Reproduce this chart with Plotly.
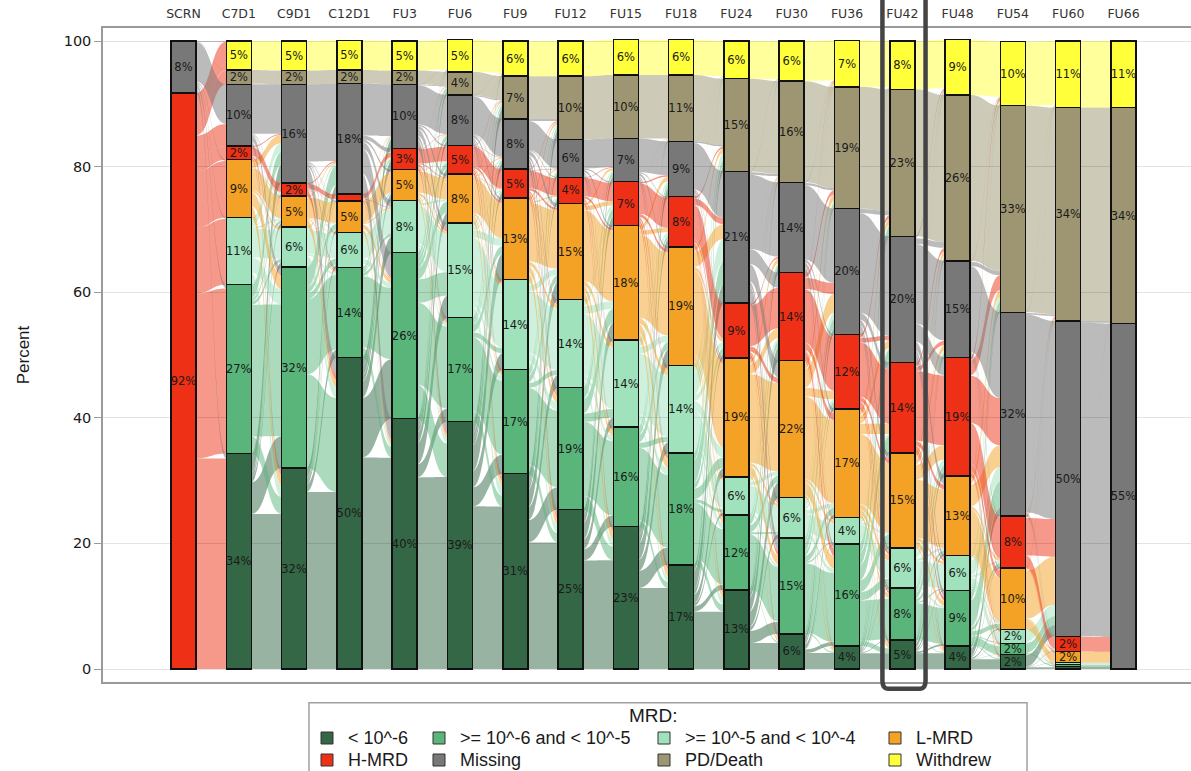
import numpy as np
import plotly.graph_objects as go

# ---- data -------------------------------------------------------------
timepoints = ["SCRN", "C7D1", "C9D1", "C12D1", "FU3", "FU6", "FU9", "FU12", "FU15",
              "FU18", "FU24", "FU30", "FU36", "FU42", "FU48", "FU54", "FU60", "FU66"]

categories = ["< 10^-6", ">= 10^-6 and < 10^-5", ">= 10^-5 and < 10^-4", "L-MRD",
              "H-MRD", "Missing", "PD/Death", "Withdrew"]

# percent of patients in each MRD state at each timepoint (stacked bottom -> top)
mrd_lt6 = [0, 34.3, 32.0, 49.6, 39.9, 39.4, 31.1, 25.4, 22.7, 16.6, 12.6, 5.6, 3.7, 4.6, 3.7, 2.3, 0.4, 0]
mrd_6_5 = [0, 26.9, 32.0, 14.3, 26.4, 16.6, 16.6, 19.4, 15.8, 17.8, 11.9, 15.3, 16.2, 8.3, 8.8, 1.8, 0.3, 0]
mrd_5_4 = [0, 10.7, 6.4, 5.6, 8.3, 15.0, 14.3, 14.0, 13.9, 13.9, 6.1, 6.4, 4.2, 6.4, 5.6, 2.2, 0.3, 0]
l_mrd = [0, 9.2, 4.9, 5.0, 4.9, 7.8, 13.0, 15.3, 18.2, 18.9, 18.9, 21.8, 17.3, 15.1, 12.6, 9.8, 1.8, 0]
h_mrd = [91.7, 2.2, 2.1, 1.1, 3.4, 4.6, 4.6, 4.2, 7.0, 8.0, 8.8, 14.0, 11.9, 14.4, 18.9, 8.3, 2.4, 0]
missing = [8.3, 9.8, 15.7, 17.6, 10.2, 8.0, 8.0, 6.0, 6.9, 8.8, 20.9, 14.4, 20.0, 20.1, 15.4, 32.4, 50.2, 55.0]
pd_death = [0, 2.3, 2.2, 2.2, 2.2, 3.7, 6.8, 10.1, 10.1, 10.6, 14.8, 16.1, 19.4, 23.4, 26.4, 32.9, 34.0, 34.4]
withdrew = [0, 4.6, 4.7, 4.7, 4.7, 5.1, 5.6, 5.6, 5.6, 5.6, 6.0, 6.4, 7.4, 7.7, 8.8, 10.2, 10.6, 10.6]

series = [mrd_lt6, mrd_6_5, mrd_5_4, l_mrd, h_mrd, missing, pd_death, withdrew]

cat_colors = ["#346745", "#5ab57a", "#a0e2bc", "#f4a226",
              "#ee3116", "#787878", "#9e9672", "#ffff3a"]

# share of each state's overlap that stays in the same state between visits
stay_share = [0.65, 0.65, 0.65, 0.65, 0.65, 0.75, 1.0, 1.0]

highlight = "FU42"

# ---- geometry ---------------------------------------------------------
W, H = 1191, 771
ML, MR, MT, MB = 103, 0, 28, 89
PW, PH = W - ML - MR, H - MT - MB
BAR_W = 0.452


def paper_x(px):
    return (px - ML) / PW


def paper_y(py):
    return (H - MB - py) / PH


def rgba(hex_color, alpha):
    h = hex_color.lstrip("#")
    r, g, b = int(h[0:2], 16), int(h[2:4], 16), int(h[4:6], 16)
    return f"rgba({r},{g},{b},{alpha})"


vals = np.array(series, dtype=float)
n_cat, n_t = vals.shape
xpos = list(range(n_t))

fig = go.Figure()

# ---- stacked bars ----------------------------------------------------
for k in range(n_cat):
    yv = [v if v > 0 else None for v in series[k]]
    txt = [f"{round(v)}%" if v >= 1.5 else "" for v in series[k]]
    fig.add_trace(go.Bar(
        x=xpos, y=yv, width=BAR_W, name=categories[k],
        marker=dict(color=cat_colors[k], line=dict(color="#111111", width=1.5)),
        text=txt, textposition="inside", insidetextanchor="middle", textangle=0,
        textfont=dict(family="DejaVu Sans", size=11.5, color="#1a1a1a"),
        showlegend=False, hoverinfo="skip",
    ))

# ---- alluvial ribbons between neighbouring visits ---------------------
shapes = []
for t in range(n_t - 1):
    a, b = vals[:, t], vals[:, t + 1]
    A, B = a / a.sum(), b / b.sum()
    stay = np.array(stay_share) * np.minimum(A, B)
    r, s = A - stay, B - stay
    R = r.sum()
    F = np.diag(stay) + (np.outer(r, s) / R if R > 1e-12 else 0.0)

    src_cur = np.concatenate([[0.0], np.cumsum(a)[:-1]])
    tgt_cur = np.concatenate([[0.0], np.cumsum(b)[:-1]])
    xs, xt = t + BAR_W / 2, t + 1 - BAR_W / 2
    xm = (xs + xt) / 2
    for k in range(n_cat):
        for j in range(n_cat):
            f = F[k, j]
            if f <= 0:
                continue
            hs, ht = f * a.sum(), f * b.sum()
            s0, s1 = src_cur[k], src_cur[k] + hs
            t0, t1 = tgt_cur[j], tgt_cur[j] + ht
            src_cur[k] = s1
            tgt_cur[j] = t1
            if hs < 0.02:
                continue
            path = (f"M {xs},{s0} C {xm},{s0} {xm},{t0} {xt},{t0} "
                    f"L {xt},{t1} C {xm},{t1} {xm},{s1} {xs},{s1} Z")
            shapes.append(dict(type="path", xref="x", yref="y", path=path,
                               fillcolor=rgba(cat_colors[k], 0.5),
                               line=dict(width=0), layer="below"))

# ---- highlight frame around one visit ---------------------------------
hx = timepoints.index(highlight)
x0, x1 = hx - 0.36, hx + 0.42
yb, ytop = paper_y(688.7), 1.2
rx, ry = 0.1, 8 / PH
shapes.append(dict(
    type="path", xref="x", yref="paper",
    path=(f"M {x0},{ytop} L {x0},{yb + ry} Q {x0},{yb} {x0 + rx},{yb} "
          f"L {x1 - rx},{yb} Q {x1},{yb} {x1},{yb + ry} L {x1},{ytop}"),
    line=dict(color="#444444", width=4.5), layer="above"))

# ---- legend -----------------------------------------------------------
annotations = []
shapes.append(dict(type="rect", xref="paper", yref="paper",
                   x0=paper_x(309), x1=paper_x(1027),
                   y0=paper_y(702.7), y1=paper_y(790),
                   line=dict(color="#a0a0a0", width=1.5), fillcolor="white",
                   layer="above"))
annotations.append(dict(text="MRD:", xref="paper", yref="paper",
                        x=paper_x(653), y=paper_y(715), showarrow=False,
                        xanchor="center", yanchor="middle",
                        font=dict(family="Liberation Sans", size=19, color="#1a1a1a")))
col_left = [321, 433, 658, 889]
row_mid = [738, 760]
for k, name in enumerate(categories):
    cx, cy = col_left[k % 4], row_mid[k // 4]
    shapes.append(dict(type="rect", xref="paper", yref="paper",
                       x0=paper_x(cx), x1=paper_x(cx + 12),
                       y0=paper_y(cy - 6), y1=paper_y(cy + 6),
                       fillcolor=cat_colors[k], line=dict(color="#333333", width=1),
                       layer="above"))
    annotations.append(dict(text=name, xref="paper", yref="paper",
                            x=paper_x(cx + 25), y=paper_y(cy), showarrow=False,
                            xanchor="left", yanchor="middle",
                            font=dict(family="Liberation Sans", size=18, color="#1a1a1a")))

# ---- layout -----------------------------------------------------------
px_per_unit = (1123.5 - 183.5) / (n_t - 1)
x_range = [-(183.5 - ML) / px_per_unit, (W - MR - 183.5) / px_per_unit]
y_per_px = 100 / (669 - 41)
y_range = [-(H - MB - 669) * y_per_px, 100 + (41 - MT) * y_per_px]

fig.update_layout(
    width=W, height=H, barmode="stack",
    margin=dict(l=ML, r=MR, t=MT, b=MB, pad=0),
    paper_bgcolor="white", plot_bgcolor="white",
    uniformtext=dict(minsize=11.5, mode="show"),
    showlegend=False,
    shapes=shapes, annotations=annotations,
    xaxis=dict(range=x_range, side="top", tickmode="array", tickvals=xpos,
               ticktext=timepoints, showgrid=False, zeroline=False,
               showline=True, mirror=True, linecolor="#9a9a9a", linewidth=1.5,
               ticks="", ticklabelstandoff=3,
               tickfont=dict(family="DejaVu Sans", size=12.5, color="#333333")),
    yaxis=dict(range=y_range, tickmode="array", tickvals=[0, 20, 40, 60, 80, 100],
               showgrid=True, gridcolor="rgba(0,0,0,0.11)", gridwidth=1,
               zeroline=False, showline=True, linecolor="#9a9a9a", linewidth=1.5,
               ticks="outside", ticklen=7, tickcolor="#9a9a9a", tickwidth=1.2,
               tickfont=dict(family="DejaVu Sans", size=14.5, color="#1a1a1a"),
               title=dict(text="Percent", standoff=30,
                          font=dict(family="Liberation Sans", size=17, color="#1a1a1a"))),
)

fig.write_html("out.html")
